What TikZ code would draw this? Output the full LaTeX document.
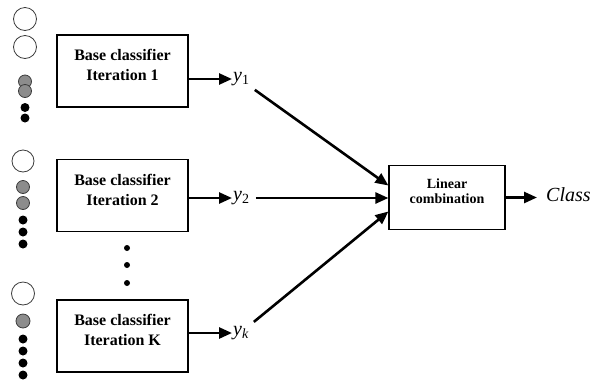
\documentclass[tikz,border=0pt]{standalone}
\usepackage{fontspec}
\setmainfont{Liberation Serif}
\usetikzlibrary{arrows.meta}
\definecolor{dotgray}{RGB}{140,140,140}
\definecolor{rimgray}{RGB}{60,60,60}
\begin{document}
\begin{tikzpicture}[x=1pt,y=-1pt,
  clfbox/.style={draw,line width=1.2pt,minimum width=131pt,minimum height=72pt,inner sep=0pt},
  clftext/.style={font=\bfseries\fontsize{16}{20}\selectfont,align=center,yshift=6pt},
  lintext/.style={font=\bfseries\fontsize{14}{15}\selectfont,align=center,yshift=6pt},
  outlabel/.style={font=\itshape\fontsize{20}{20}\selectfont,inner sep=1pt,anchor=west},
  thickarrow/.style={line width=2.6pt,-{Triangle[length=13pt,width=11pt]}},
  whitedot/.style={draw=rimgray,fill=white,line width=0.8pt},
  graydot/.style={draw=rimgray,fill=dotgray,line width=0.8pt},
  blackdot/.style={fill=black}]
\useasboundingbox (0,0) rectangle (603,384);

% the base classifiers
\node[clfbox,label={[clftext]center:Base classifier\\Iteration 1}] (b1) at (122.5,71) {};
\node[clfbox,label={[clftext]center:Base classifier\\Iteration 2}] (b2) at (122.5,195.5) {};
\node[clfbox,label={[clftext]center:Base classifier\\Iteration K}] (b3) at (122.5,336) {};

% outputs
\node[outlabel] (y1) at (232,79) {y\textsubscript{\upshape 1}};
\node[outlabel] (y2) at (232,198) {y\textsubscript{\upshape 2}};
\node[outlabel] (yk) at (232,333) {y\textsubscript{k}};

\node[draw,line width=1.2pt,minimum width=116pt,minimum height=64pt,inner sep=0pt,
      label={[lintext]center:Linear\\combination}] (lc) at (447,197.5) {};
\node[font=\itshape\fontsize{20}{20}\selectfont,inner sep=0pt,inner xsep=9pt,anchor=west] (cls) at (537,195) {Class};

\draw[thickarrow] (b1.east |- y1.west) -- (y1.west);
\draw[thickarrow] (b2.east |- y2.west) -- (y2.west);
\draw[thickarrow] (b3.east |- yk.west) -- (yk.west);
\draw[thickarrow,shorten <=5pt] (y1.south east) -- ([yshift=12pt]lc.west);
\draw[thickarrow,shorten <=5pt] (y2.east) -- (lc.west |- y2.east);
\draw[thickarrow,shorten <=5pt] (yk.north east) -- ([yshift=-14pt]lc.west);
\draw[thickarrow] (lc.east) -- (lc.east -| cls.west);

% weighted samples
\draw[whitedot] (25,19) circle (11.5);
\draw[whitedot] (25,47) circle (11.5);
\draw[graydot] (25,81.5) circle (6.5);
\draw[graydot] (25,91) circle (6.5);
\foreach \y in {107.5,118} \fill[blackdot] (25,\y) circle (4.5);

\draw[whitedot] (23,161) circle (11);
\draw[graydot] (23,187) circle (6.5);
\draw[graydot] (23,203) circle (6.5);
\foreach \y in {220,232,244} \fill[blackdot] (23,\y) circle (4.5);

\draw[whitedot] (23,293.5) circle (11.5);
\draw[graydot] (23,321) circle (7);
\foreach \y in {339,351,363,375} \fill[blackdot] (23,\y) circle (4.5);

\foreach \y in {248,265,283} \fill[blackdot] (127,\y) circle (3);
\end{tikzpicture}
\end{document}
